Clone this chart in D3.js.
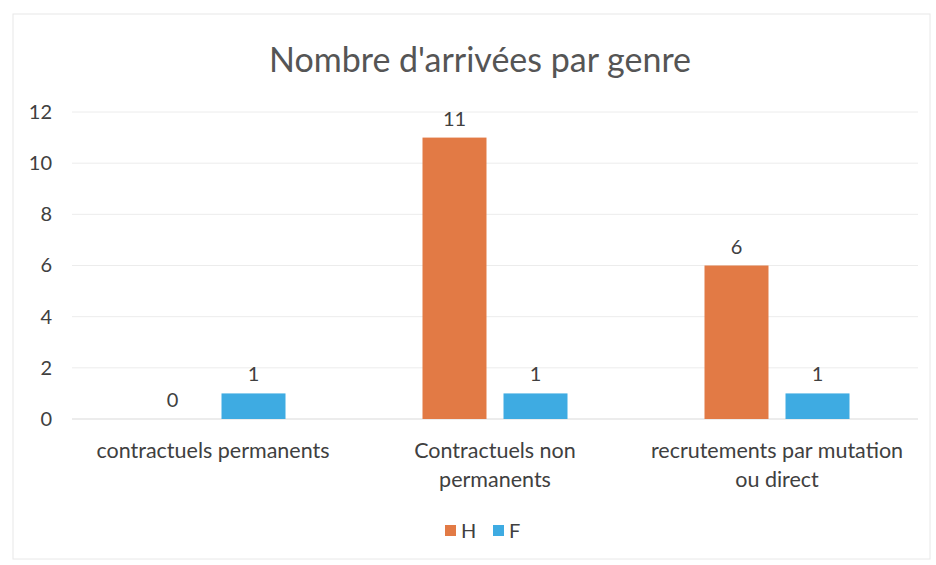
<!DOCTYPE html>
<html>
<head>
<meta charset="utf-8">
<script src="https://cdn.jsdelivr.net/npm/d3@7"></script>
<style>
  body { margin:0; background:#fff; }
  svg text { font-family: Lato, "Open Sans", sans-serif; }
</style>
</head>
<body>
<svg id="chart" width="936" height="565"></svg>
<script>
// données
const categories = [
  ['contractuels permanents'],
  ['Contractuels non', 'permanents'],
  ['recrutements par mutation', 'ou direct']
];
const seriesNames = ['H', 'F'];
const valuesH = [0, 11, 6];
const valuesF = [1, 1, 1];
const yTicks = [0, 2, 4, 6, 8, 10, 12];
const colors = { H: '#E27A45', F: '#3EABE2' };

const W = 936, H = 565;
const m = { left: 72, right: 18, top: 112, bottom: 146 };

const svg = d3.select('#chart');

// cadre
svg.append('rect')
  .attr('x', 13).attr('y', 14).attr('width', 917).attr('height', 545)
  .attr('fill', 'none').attr('stroke', '#e8e8e8').attr('stroke-width', 1);

svg.append('text')
  .attr('x', 480).attr('y', 72)
  .attr('text-anchor', 'middle')
  .attr('font-size', 34).attr('fill', '#555')
  .text("Nombre d'arrivées par genre");

const x = d3.scaleBand()
  .domain(d3.range(categories.length))
  .range([m.left, W - m.right]);

const xs = d3.scaleBand()
  .domain(seriesNames)
  .range([x.bandwidth() / 2 - 72.5, x.bandwidth() / 2 + 72.5])
  .paddingInner(0.21);

const y = d3.scaleLinear().domain([0, 12]).range([H - m.bottom, m.top]);

// quadrillage
svg.append('g').selectAll('line')
  .data(yTicks).join('line')
  .attr('x1', m.left).attr('x2', W - m.right)
  .attr('y1', d => y(d)).attr('y2', d => y(d))
  .attr('stroke', d => d === 0 ? '#d9d9d9' : '#ececec')
  .attr('stroke-width', 1);

// axe Y
const yAxis = svg.append('g')
  .attr('transform', `translate(${m.left - 20},0)`)
  .call(d3.axisLeft(y).tickValues(yTicks).tickSize(0).tickPadding(0));
yAxis.select('.domain').remove();
yAxis.selectAll('text')
  .attr('font-size', 20).attr('fill', '#404040')
  .attr('font-family', 'Lato, "Open Sans", sans-serif');

const rows = categories.map((c, i) => ({ i, H: valuesH[i], F: valuesF[i] }));

const grp = svg.append('g').selectAll('g')
  .data(rows).join('g')
  .attr('transform', d => `translate(${x(d.i)},0)`);

grp.selectAll('rect')
  .data(d => seriesNames.map(k => ({ k, v: d[k] })))
  .join('rect')
  .attr('x', d => xs(d.k))
  .attr('width', xs.bandwidth())
  .attr('y', d => y(d.v))
  .attr('height', d => y(0) - y(d.v))
  .attr('fill', d => colors[d.k]);

grp.selectAll('text.val')
  .data(d => seriesNames.map(k => ({ k, v: d[k] })))
  .join('text')
  .attr('class', 'val')
  .attr('x', d => xs(d.k) + xs.bandwidth() / 2)
  .attr('y', d => y(d.v) - 12)
  .attr('text-anchor', 'middle')
  .attr('font-size', 20).attr('fill', '#404040')
  .text(d => d.v);

// libellés de catégories
grp.append('text')
  .attr('text-anchor', 'middle')
  .attr('font-size', 21.5).attr('fill', '#404040')
  .selectAll('tspan')
  .data(d => categories[d.i])
  .join('tspan')
  .attr('x', x.bandwidth() / 2)
  .attr('y', (d, j) => y(0) + 39 + j * 29)
  .text(d => d);

// légende
const leg = svg.append('g').attr('transform', 'translate(445,531)');
const legItems = leg.selectAll('g')
  .data(seriesNames).join('g')
  .attr('transform', (d, i) => `translate(${i * 48},0)`);
legItems.append('rect')
  .attr('x', 0).attr('y', -6).attr('width', 11).attr('height', 11)
  .attr('fill', d => colors[d]);
legItems.append('text')
  .attr('x', 16).attr('y', 0).attr('dy', '0.35em')
  .attr('font-size', 20).attr('fill', '#404040')
  .text(d => d);
</script>
</body>
</html>
